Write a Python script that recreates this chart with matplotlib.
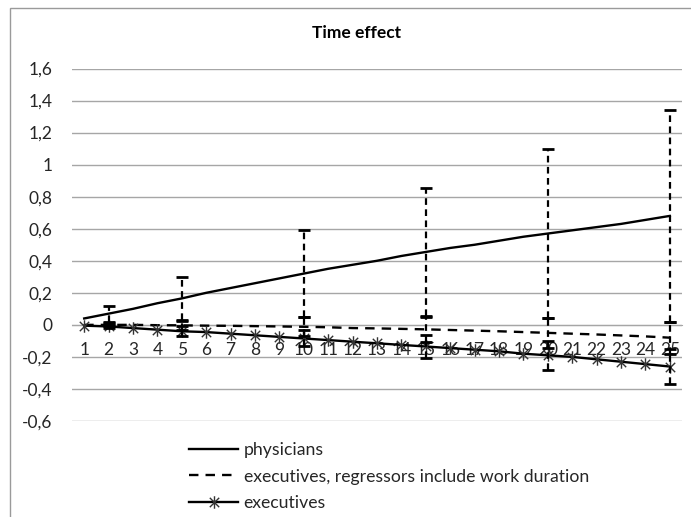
import numpy as np
import matplotlib.pyplot as plt
from matplotlib.path import Path
from matplotlib.patches import Rectangle
from matplotlib.ticker import FuncFormatter

plt.rcParams['font.family'] = ['Lato', 'DejaVu Sans']

# Данные (оценены по картинке)
years = list(range(1, 26))
physicians = [0.04, 0.07, 0.10, 0.135, 0.165, 0.20, 0.23, 0.26, 0.29, 0.32,
              0.35, 0.375, 0.40, 0.43, 0.455, 0.48, 0.50, 0.525, 0.55, 0.57,
              0.59, 0.61, 0.63, 0.655, 0.68]
exec_work = [0.0, 0.0, 0.0, -0.002, -0.003, -0.005, -0.006, -0.008, -0.01, -0.012,
             -0.015, -0.02, -0.022, -0.025, -0.028, -0.032, -0.036, -0.04, -0.045, -0.05,
             -0.055, -0.06, -0.066, -0.072, -0.08]
executives = [-0.005, -0.01, -0.02, -0.03, -0.04, -0.045, -0.055, -0.065, -0.075, -0.085,
              -0.095, -0.105, -0.115, -0.125, -0.135, -0.145, -0.155, -0.165, -0.18, -0.19,
              -0.20, -0.215, -0.23, -0.245, -0.26]

# Доверительные интервалы в отдельных точках
err_years = [2, 5, 10, 15, 20, 25]
err_physicians = [0.05, 0.135, 0.27, 0.40, 0.53, 0.66]
err_exec_work = [0.01, 0.03, 0.06, 0.08, 0.095, 0.10]
err_executives = [0.01, 0.03, 0.05, 0.07, 0.09, 0.11]

labels = ['physicians', 'executives, regressors include work duration', 'executives']

# Маркер-звёздочка как в Excel
star = Path([(0, -1), (0, 1), (-0.75, -0.75), (0.75, 0.75), (-0.75, 0.75), (0.75, -0.75)],
            [Path.MOVETO, Path.LINETO, Path.MOVETO, Path.LINETO, Path.MOVETO, Path.LINETO])

fig = plt.figure(figsize=(6.91, 5.17), dpi=100)
ax = fig.add_axes([72 / 691, 1 - 421 / 517, 610 / 691, 352.5 / 517])

l1, = ax.plot(years, physicians, color='black', lw=1.7, zorder=3)
l2, = ax.plot(years, exec_work, color='black', lw=1.7, ls=(0, (4, 3)), zorder=3)
l3, = ax.plot(years, executives, color='black', lw=1.7, marker=star, ms=9,
              mec='#333333', mew=1.0, zorder=3)

def pick(series):
    return [series[years.index(y)] for y in err_years]

for series, err in [(physicians, err_physicians), (exec_work, err_exec_work),
                    (executives, err_executives)]:
    eb = ax.errorbar(err_years, pick(series), yerr=err, fmt='none', ecolor='black',
                     elinewidth=1.6, capsize=4, capthick=2, zorder=4)
    eb[2][0].set_linestyle((0, (3, 2)))

ax.set_xlim(0.5, 25.5)
ax.set_ylim(-0.6, 1.6)
ax.set_yticks(np.arange(-0.6, 1.61, 0.2))
ax.yaxis.set_major_formatter(FuncFormatter(lambda v, p: f'{round(v, 1):g}'.replace('.', ',')))
ax.set_xticks(years)
ax.grid(axis='y', color='#a6a6a6', lw=1.0)
ax.set_axisbelow(True)
for s in ['top', 'right', 'left']:
    ax.spines[s].set_visible(False)
ax.spines['bottom'].set_position(('data', 0))
ax.spines['bottom'].set_color('#a6a6a6')
ax.tick_params(axis='x', length=0, pad=12, labelsize=12.5, colors='#262626')
ax.tick_params(axis='y', length=0, pad=14, labelsize=12.5, colors='#262626')

fig.text(357 / 691, 1 - 33 / 517, 'Time effect', ha='center', va='center',
         fontsize=12.5, fontweight='bold')

fig.legend([l1, l2, l3], labels, loc='upper left', bbox_to_anchor=(189 / 691, 1 - 442 / 517),
           frameon=False, fontsize=12.7, handlelength=2.8, handletextpad=0.3,
           labelspacing=0.6, borderpad=0, borderaxespad=0, labelcolor='#262626')

# рамка области диаграммы
fig.patches.append(Rectangle((10 / 691, -0.1), 1.0, 1 - 7.5 / 517 + 0.1,
                             transform=fig.transFigure, fill=False,
                             edgecolor='#9a9a9a', lw=1.0))

fig.savefig('out.png', dpi=100)
